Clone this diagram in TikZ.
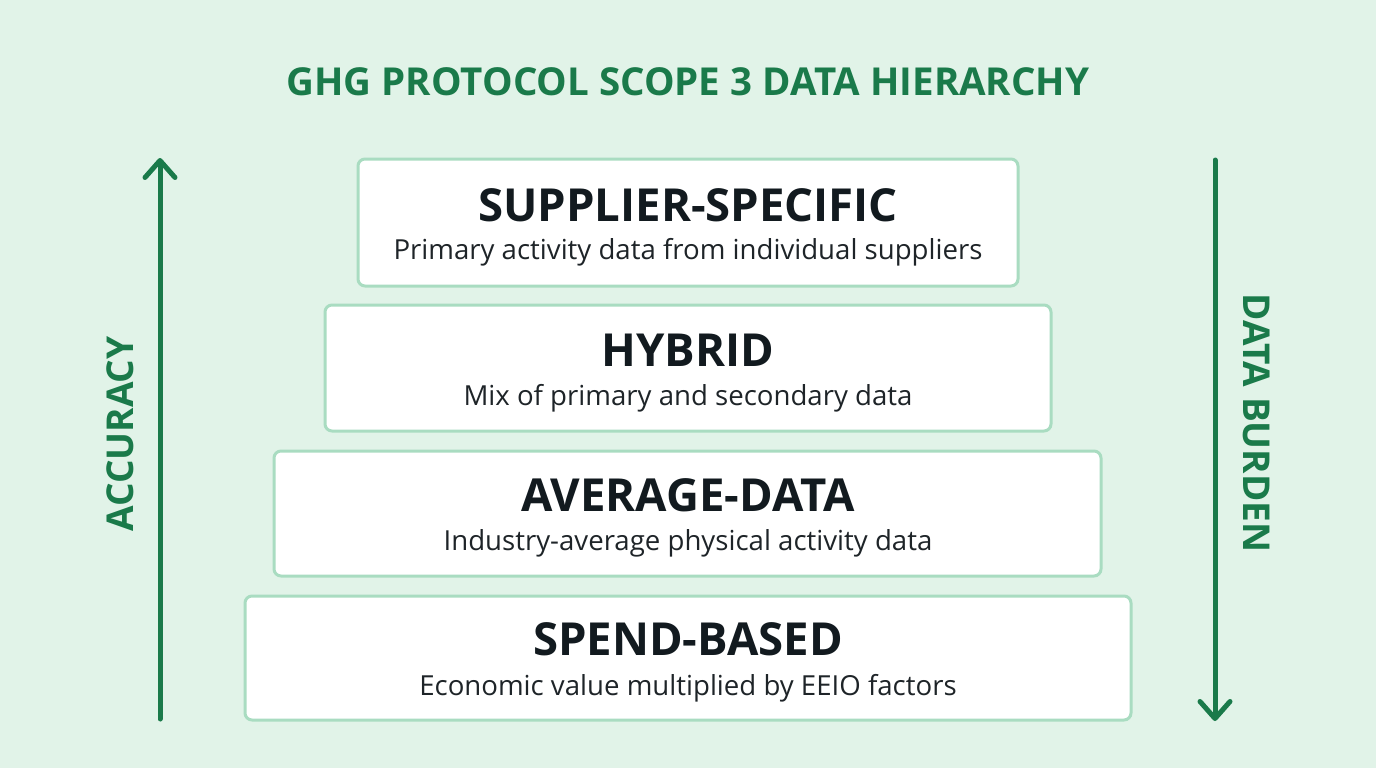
\documentclass[tikz,border=0pt]{standalone}
\usepackage{fontspec}
\setmainfont{Open Sans}
\usetikzlibrary{arrows.meta}
\definecolor{bgc}{HTML}{E1F3E8}
\definecolor{edgec}{HTML}{A9DCC1}
\definecolor{gr}{HTML}{1A7A4A}
\definecolor{ink}{HTML}{121A1F}
\definecolor{sub}{HTML}{1E2428}
\tikzset{
  tier/.style={draw=edgec, line width=3pt, fill=white, rounded corners=7pt},
  tiername/.style={font=\fontsize{45.5}{48}\selectfont\bfseries, text=ink, inner sep=0pt},
  tierdesc/.style={font=\fontsize{27.6}{31}\selectfont, text=sub, inner sep=0pt},
  axis/.style={draw=gr, line width=5pt, -{Straight Barb[length=17pt,width=30pt,line width=5pt,round]}, line cap=round},
  axislabel/.style={font=\fontsize{37}{40}\selectfont\bfseries, text=gr, inner sep=0pt}
}
\begin{document}
\begin{tikzpicture}[x=1pt,y=-1pt]
\useasboundingbox[fill=bgc] (0,0) rectangle (1376,768);
\node[font=\fontsize{38.5}{42}\selectfont\bfseries, text=gr, inner sep=0pt] (title) at (688,82) {GHG PROTOCOL SCOPE 3 DATA HIERARCHY};
% tiers
\draw[tier] (358,159) rectangle (1018,286);
\node[tiername] (t1) at (688,205) {SUPPLIER-SPECIFIC};
\node[tierdesc] (d1) at (688,252) {Primary activity data from individual suppliers};
\draw[tier] (325,305) rectangle (1051,431);
\node[tiername] (t2) at (688,350) {HYBRID};
\node[tierdesc] (d2) at (688,398) {Mix of primary and secondary data};
\draw[tier] (274,451) rectangle (1101,576);
\node[tiername] (t3) at (688,495) {AVERAGE-DATA};
\node[tierdesc] (d3) at (688,543) {Industry-average physical activity data};
\draw[tier] (245,596) rectangle (1131,720);
\node[tiername] (t4) at (688,639) {SPEND-BASED};
\node[tierdesc] (d4) at (688,688) {Economic value multiplied by EEIO factors};
% axes
\coordinate (a0) at (160,719);
\coordinate (a1) at (160,158);
\draw[axis] (a0) -- (a1);
\coordinate (b0) at (1215,160);
\coordinate (b1) at (1215,721);
\draw[axis] (b0) -- (b1);
\node[axislabel, rotate=90] (acc) at (120,434) {ACCURACY};
\node[axislabel, rotate=-90] (burden) at (1257,423) {DATA BURDEN};
\end{tikzpicture}
\end{document}
